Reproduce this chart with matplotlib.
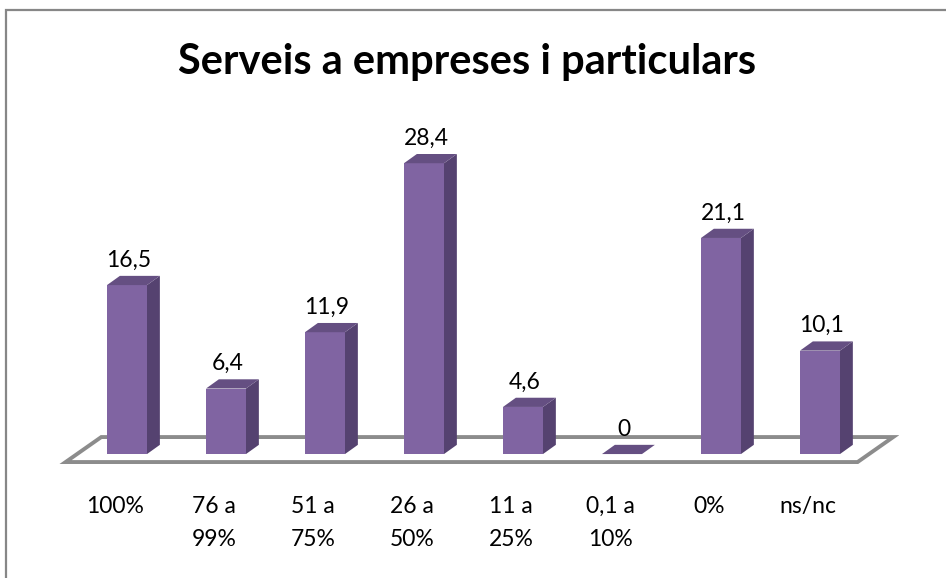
import matplotlib.pyplot as plt
from matplotlib.patches import Polygon, Rectangle

# data
categories = ["100%", "76 a\n99%", "51 a\n75%", "26 a\n50%", "11 a\n25%", "0,1 a\n10%", "0%", "ns/nc"]
values = [16.5, 6.4, 11.9, 28.4, 4.6, 0, 21.1, 10.1]
title = "Serveis a empreses i particulars"

# colours / 3d look
front_col = "#8064A2"
side_col = "#554270"
top_col = "#654F82"
floor_edge = "#8C8C8C"
w = 0.404     # bar width in category units
dx = 0.13     # depth offset, x
dy = 0.9      # depth offset, y (value units)

plt.rcParams['font.family'] = ['Lato', 'DejaVu Sans']

fig = plt.figure(figsize=(9.46, 5.78), dpi=100)
ax = fig.add_axes([0.061, 0.179, 0.8895, 0.6024])
ax.set_xlim(-0.7, 7.8)
ax.set_ylim(-2, 32)
for s in ax.spines.values():
    s.set_visible(False)
ax.set_yticks([])
ax.set_xticks([])

n = len(values)
x = list(range(n))

# floor
floor = Polygon([(-0.62, -0.78), (n - 0.62, -0.78), (n - 0.26, 1.66), (-0.26, 1.66)],
                closed=True, facecolor="white", edgecolor=floor_edge, lw=2.8, zorder=1)
ax.add_patch(floor)

# bars
ax.bar(x, values, width=w, color=front_col, zorder=3)
for i, v in zip(x, values):
    r = i + w / 2
    l = i - w / 2
    side = Polygon([(r, 0), (r + dx, dy), (r + dx, v + dy), (r, v)],
                   closed=True, facecolor=side_col, edgecolor="none", zorder=2)
    top = Polygon([(l, v), (r, v), (r + dx, v + dy), (l + dx, v + dy)],
                  closed=True, facecolor=top_col, edgecolor="none", zorder=4)
    ax.add_patch(side)
    ax.add_patch(top)
    ax.text(i + 0.02, v + dy + 0.9, f"{v:g}".replace(".", ","), ha="center", va="baseline",
            fontsize=16.5, color="black", clip_on=False)

# category labels, centred on the floor front edge, one line at a time
for i, cat in zip(x, categories):
    for k, line in enumerate(cat.split("\n")):
        ax.annotate(line, xy=(i - 0.12, 0), xycoords=("data", "axes fraction"),
                    xytext=(0, -27.4 - 23.8 * k), textcoords="offset points",
                    ha="center", va="baseline", fontsize=16.5, annotation_clip=False)

fig.text(0.494, 0.893, title, ha="center", va="center", fontsize=30, fontweight="bold")

# chart border
fig.patches.append(Rectangle((6 / 946, -0.05), 1.1, (578 - 10) / 578 + 0.05,
                             transform=fig.transFigure, fill=False,
                             edgecolor="#878787", lw=1.6))

fig.savefig("out.png", dpi=100)
